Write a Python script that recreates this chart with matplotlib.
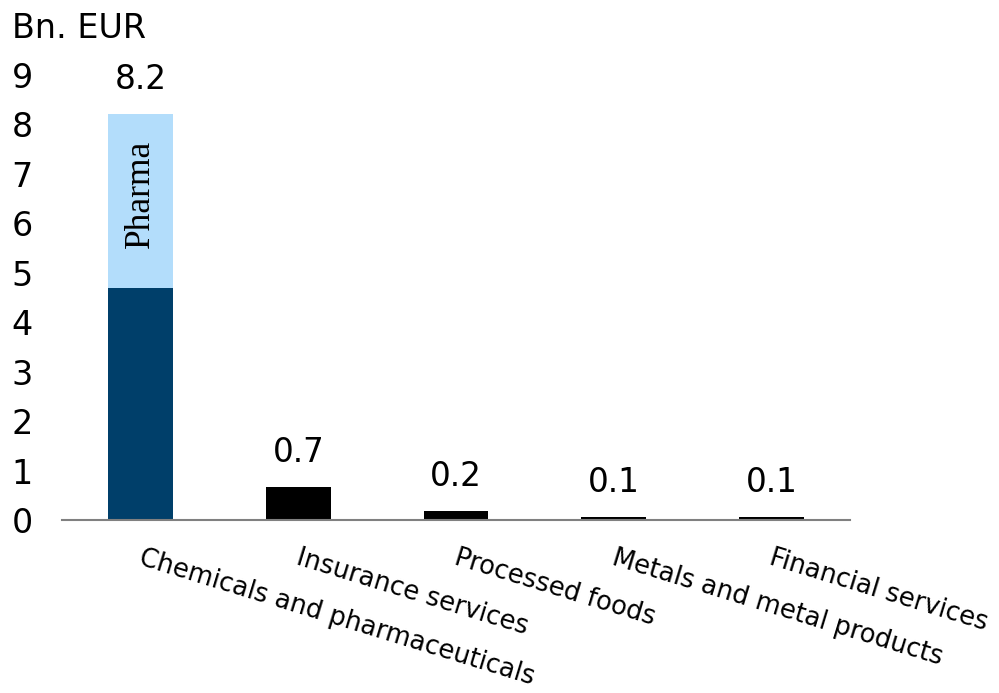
import matplotlib
matplotlib.use("Agg")
import matplotlib.pyplot as plt
import numpy as np

categories = ["Chemicals and pharmaceuticals", "Insurance services", "Processed foods",
              "Metals and metal products", "Financial services"]
base_values = [4.7, 0.67, 0.18, 0.06, 0.06]
pharma_values = [3.5, 0, 0, 0, 0]
totals_labels = ["8.2", "0.7", "0.2", "0.1", "0.1"]
y_ticks = list(range(0, 10))

plt.rcParams['font.family'] = ['DejaVu Sans']

fig = plt.figure(figsize=(9.99, 6.93), dpi=100)
ax = fig.add_axes([0.062, 0.2496, 0.789, 0.6424])

x = np.arange(len(categories))
colors = ['#003F6A', '#000000', '#000000', '#000000', '#000000']
ax.bar(x, base_values, width=0.41, color=colors, zorder=2)
ax.bar(x, pharma_values, width=0.41, bottom=base_values, color='#B3DDFB', zorder=2)

tops = np.array(base_values) + np.array(pharma_values)
for xi, t, lab in zip(x, tops, totals_labels):
    ax.annotate(lab, (xi, t), xytext=(0, 25), textcoords='offset points',
                ha='center', va='center', fontsize=23.5, color='#000000')

ax.text(x[0], base_values[0] + pharma_values[0] * 0.54, "Pharma", rotation=90,
        ha='center', va='center', fontsize=25.5, family='Liberation Serif', color='#000000')

ax.set_xlim(-0.5, len(categories) - 0.5)
ax.set_ylim(0, 9)
ax.set_yticks(y_ticks)
ax.set_yticklabels([str(v) for v in y_ticks], fontsize=24)
ax.tick_params(axis='y', length=0, pad=21)
ax.set_xticks([])

for s in ['top', 'right', 'left']:
    ax.spines[s].set_visible(False)
ax.spines['bottom'].set_color('#808080')
ax.spines['bottom'].set_linewidth(1.5)
ax.spines['bottom'].set_zorder(3)

for xi, cat in zip(x, categories):
    ax.annotate(cat, (xi, 0), xytext=(2, -18), textcoords='offset points',
                ha='left', va='top', rotation=-17, rotation_mode='anchor',
                fontsize=18.5, color='#000000', annotation_clip=False)

fig.text(12 / 999, 1 - 28 / 693, "Bn. EUR", ha='left', va='center', fontsize=24)

fig.savefig("out.png", dpi=100)
